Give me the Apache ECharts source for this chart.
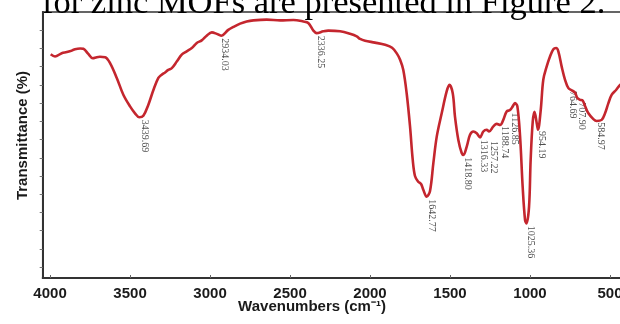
<!DOCTYPE html>
<html><head><meta charset="utf-8">
<script src="https://cdn.jsdelivr.net/npm/echarts@6/dist/echarts.min.js"></script>
<style>html,body{margin:0;padding:0;background:#fff;overflow:hidden}#c{width:620px;height:324px}</style>
</head><body><div id="c"></div>
<script>
const wavenumbers = [3996,3969,3927,3896,3864,3844,3812,3792,3761,3733,3708,3688,3656,3625,3583,3542,3500,3469,3442,3417,3386,3354,3323,3302,3281,3261,3239,3208,3177,3146,3114,3083,3052,3021,2989,2958,2931,2886,2854,2812,2771,2729,2646,2562,2479,2417,2386,2354,2334,2292,2261,2187,2125,2083,2062,2031,1969,1906,1862,1831,1812,1792,1771,1750,1733,1719,1700,1681,1667,1646,1625,1604,1583,1552,1521,1504,1483,1469,1448,1427,1416,1396,1375,1354,1333,1312,1292,1271,1256,1229,1208,1187,1167,1146,1125,1108,1094,1079,1062,1046,1031,1022,1006,996,983,972,958,950,933,917,896,875,854,837,823,802,781,760,739,719,704,687,671,656,635,604,584,552,531,510,489,462,437,412];
const transmittance = [61.4,60.8,61.7,62.0,62.4,62.8,63.0,62.9,61.5,60.3,60.6,60.7,60.6,59.0,54.9,50.3,47.1,45.2,44.1,44.5,47.5,51.6,54.9,55.8,56.4,57.1,57.6,59.4,61.3,62.2,63.1,64.5,65.2,66.5,67.4,67.0,66.5,68.1,68.9,69.8,70.4,70.7,70.9,70.7,70.8,70.4,70.0,67.9,67.2,67.7,67.9,67.7,67.0,66.3,65.6,65.1,64.6,64.0,63.2,61.5,59.9,57.1,50.7,41.6,32.4,28.0,26.5,25.8,24.2,22.3,23.9,31.6,38.8,45.2,51.2,53.0,50.7,44.3,37.9,34.3,33.8,36.0,39.3,40.2,39.7,38.6,40.2,40.7,40.2,41.6,42.3,42.0,43.4,45.7,46.1,47.1,48.0,47.1,38.8,25.1,15.9,15.0,19.6,32.4,42.9,45.6,42.5,40.7,46.1,54.4,58.0,60.8,62.8,63.1,62.2,58.0,54.4,52.1,51.5,50.9,49.4,48.9,48.7,47.2,45.2,43.6,43.1,43.4,45.2,48.0,50.3,51.6,53.0,53.8];
const peakLabels = ['3439.69','2934.03','2336.25','1642.77','1418.80','1316.33','1257.22','1188.74','1126.85','1025.36','954.19','764.69','707.90','584.97'];
const peakWavenumbers = [3439.69,2934.03,2336.25,1642.77,1418.80,1316.33,1257.22,1188.74,1126.85,1025.36,954.19,764.69,707.90,584.97];
const peakTransmittance = [44.1,66.5,67.2,22.3,33.8,38.6,38.3,42.4,46.1,15.0,41.0,52.0,48.9,43.4];
const xTickValues = [500,1000,1500,2000,2500,3000,3500,4000];
const yTickValues = [3,8,13,18,23,28,33,38,43,48,53,58,63,68];
const headerText = 'for zinc MOFs are presented in Figure 2.';
const xAxisTitle = 'Wavenumbers (cm\u207B\u00B9)';
const yAxisTitle = 'Transmittance (%)';

const chart = echarts.init(document.getElementById('c'), null, {renderer: 'canvas'});
const curve = wavenumbers.map((w, i) => [w, transmittance[i]]);
const peaks = peakWavenumbers.map((w, i) => [w, peakTransmittance[i]]);

chart.setOption({
  animation: false,
  backgroundColor: '#fff',
  grid: {left: 42.7, right: -6, top: 12, bottom: 46, containLabel: false, outerBoundsMode: 'none',
         show: true, borderColor: '#333', borderWidth: 1.5, backgroundColor: 'transparent'},
  xAxis: {
    type: 'value', inverse: true, min: 400, max: 4046,
    splitLine: {show: false},
    axisLine: {show: true, lineStyle: {color: '#333', width: 2}},
    axisTick: {show: true, inside: true, length: 3, customValues: xTickValues, lineStyle: {color: '#666', width: 1}},
    axisLabel: {show: true, customValues: xTickValues, formatter: v => String(v), margin: 8, color: '#1a1a1a',
                fontFamily: 'Liberation Sans, Arial, sans-serif', fontWeight: 'bold', fontSize: 15}
  },
  yAxis: {
    type: 'value', min: 0, max: 73,
    splitLine: {show: false},
    axisLine: {show: true, lineStyle: {color: '#333', width: 2}},
    axisTick: {show: true, inside: false, length: 3, customValues: yTickValues, lineStyle: {color: '#777', width: 1}},
    axisLabel: {show: false}
  },
  series: [
    {type: 'line', data: curve, showSymbol: false, smooth: 0.35, silent: true,
     lineStyle: {color: '#c4262e', width: 2.6}},
    {type: 'scatter', data: peaks, symbolSize: 1, silent: true,
     itemStyle: {color: 'rgba(0,0,0,0)'},
     labelLayout: {hideOverlap: false},
     label: {show: true, formatter: p => peakLabels[p.dataIndex], position: [5, 3], rotate: -90,
       align: 'left', verticalAlign: 'middle', color: '#222', fontFamily: 'Liberation Serif, Times New Roman, serif', fontSize: 10}}
  ],
  graphic: [
    {type: 'text', left: 42, top: -14, style: {text: headerText, fill: '#000', font: '34.5px "Liberation Serif", "Times New Roman", serif'}},
    {type: 'text', x: 22.7, y: 135.5, rotation: Math.PI / 2,
     style: {text: yAxisTitle, fill: '#1a1a1a', font: 'bold 15px "Liberation Sans", Arial, sans-serif', align: 'center', verticalAlign: 'middle'}},
    {type: 'text', x: 312, y: 307,
     style: {text: xAxisTitle, fill: '#1a1a1a', font: 'bold 15px "Liberation Sans", Arial, sans-serif', align: 'center', verticalAlign: 'middle'}}
  ]
});
</script>
</body></html>
